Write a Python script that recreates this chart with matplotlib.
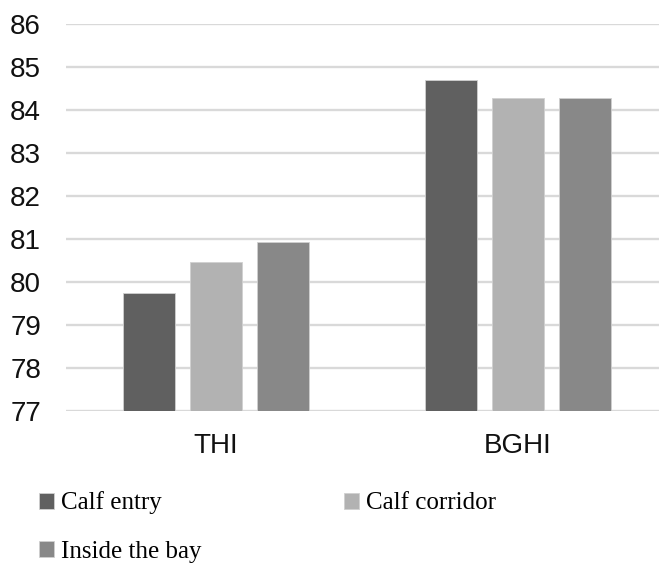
import numpy as np
import matplotlib.pyplot as plt

# values
categories = ["THI", "BGHI"]
series_names = ["Calf entry", "Calf corridor", "Inside the bay"]
calf_entry = [79.74, 84.70]
calf_corridor = [80.47, 84.27]
inside_bay = [80.93, 84.27]
colors = ["#606060", "#b2b2b2", "#888888"]

fig = plt.figure(figsize=(6.59, 5.65), dpi=100)
ax = fig.add_axes([66 / 659, 154 / 565, 593 / 659, 387 / 565])

x = np.arange(len(categories))
width = 0.172
step = 0.222
bars = []
for i, (name, vals) in enumerate(zip(series_names, [calf_entry, calf_corridor, inside_bay])):
    b = ax.bar(x + (i - 1) * step, np.array(vals) - 77, width, bottom=77,
               color=colors[i], edgecolor="#d0d0d0", linewidth=0.6, label=name, zorder=3)
    bars.append(b)

ax.set_ylim(77, 86)
ax.set_xlim(-0.495, 1.467)
ax.set_yticks(range(77, 87))
ax.set_xticks(x)
ax.set_xticklabels(categories)
ax.yaxis.grid(True, color="#d9d9d9", linewidth=1.7, zorder=0)
ax.set_axisbelow(True)
for s in ax.spines.values():
    s.set_visible(False)
ax.tick_params(axis="both", length=0, labelsize=20, colors="#111111")
ax.tick_params(axis="y", pad=18)
ax.tick_params(axis="x", pad=16)
for lab in ax.get_xticklabels() + ax.get_yticklabels():
    lab.set_fontfamily("Liberation Sans")

# legend filled column-wise, so reorder to read row-wise
handles = [bars[0], bars[2], bars[1]]
fig.legend(handles=handles, labels=[h.get_label() for h in handles], ncol=2,
           loc="upper left", bbox_to_anchor=(21 / 659, 1 - 474 / 565), frameon=False,
           prop={"family": "Liberation Serif", "size": 18},
           handlelength=0.6, handleheight=0.6, handletextpad=0.3,
           columnspacing=5.7, labelspacing=1.05, borderpad=0.2)

fig.savefig("out.png", dpi=100)
